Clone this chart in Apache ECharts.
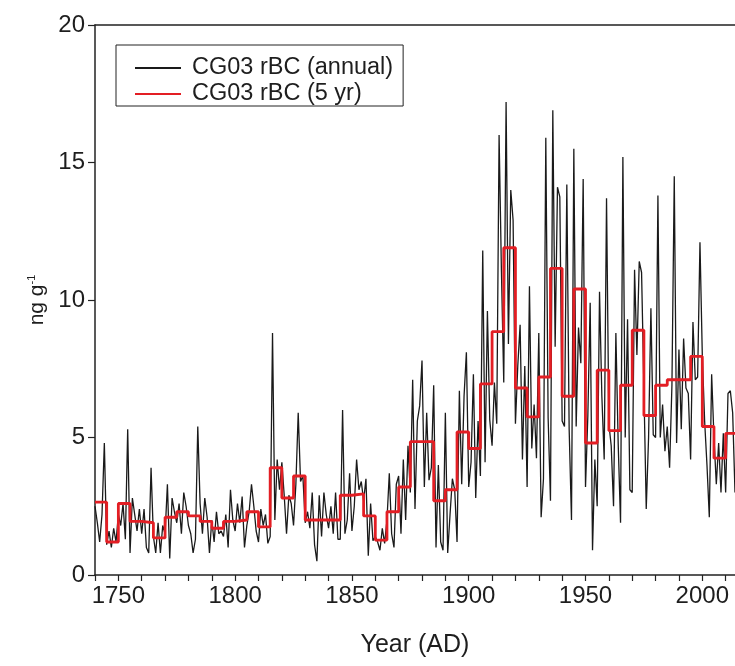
<!DOCTYPE html>
<html>
<head>
<meta charset="utf-8">
<script src="https://cdn.jsdelivr.net/npm/echarts@6/dist/echarts.min.js"></script>
<style>
  html, body { margin: 0; padding: 0; background: #fff; }
  #chart { width: 735px; height: 666px; }
</style>
</head>
<body>
<div id="chart"></div>
<script>
// CG03 refractory black carbon (rBC), ng g-1
const annualStartYear = 1740;
// one value per year, 1740 .. 2014
const annualValues = [
  2.5, 1.9, 1.2, 2.2, 4.8, 1.1, 1.6, 1.0, 1.7, 1.2,       // 1740s
  2.2, 1.8, 2.6, 1.3, 5.3, 0.8, 2.8, 2.2, 1.6, 2.4,       // 1750s
  1.5, 2.4, 1.0, 0.8, 3.9, 1.4, 0.8, 1.9, 0.8, 1.8,       // 1760s
  1.5, 3.3, 0.6, 2.8, 2.3, 1.9, 2.6, 1.5, 3.0, 2.5,       // 1770s
  1.8, 1.5, 0.8, 1.3, 5.4, 2.6, 1.5, 2.8, 2.1, 0.8,       // 1780s
  2.0, 1.2, 2.3, 1.5, 1.6, 1.4, 2.2, 1.0, 3.1, 2.0,       // 1790s
  1.6, 2.6, 1.9, 2.85, 1.0, 1.8, 2.3, 3.3, 2.5, 1.6,      // 1800s
  1.2, 2.4, 1.8, 2.2, 1.15, 1.4, 8.8, 2.0, 4.2, 3.1,      // 1810s
  4.1, 2.9, 1.5, 2.9, 2.6, 1.8, 3.3, 5.9, 3.4, 3.6,       // 1820s
  1.9, 2.3, 1.7, 3.0, 1.1, 0.5, 2.9, 1.4, 3.0, 2.2,       // 1830s
  1.7, 2.5, 1.5, 3.0, 1.3, 1.3, 6.0, 1.5, 2.0, 3.7,       // 1840s
  1.6, 2.5, 4.2, 3.1, 3.4, 2.7, 3.5, 0.7, 2.6, 1.25,      // 1850s
  1.4, 1.2, 0.9, 1.7, 1.15, 2.0, 3.7, 1.5, 1.0, 3.3,      // 1860s
  3.6, 1.5, 4.2, 2.0, 4.7, 3.0, 7.1, 2.4, 5.6, 6.15,      // 1870s
  7.8, 3.2, 5.9, 3.45, 3.9, 6.9, 1.0, 4.0, 1.2, 0.9,      // 1880s
  5.9, 0.8, 2.2, 3.5, 3.1, 1.2, 6.7, 3.3, 6.5, 8.1,       // 1890s
  3.2, 4.1, 7.3, 2.8, 5.6, 3.6, 11.8, 4.1, 9.6, 5.65,     // 1900s
  4.7, 7.0, 5.5, 16.0, 11.05, 7.0, 17.2, 8.4, 14.0, 12.9, // 1910s
  5.5, 7.6, 9.1, 4.2, 7.6, 3.2, 10.5, 4.6, 6.2, 4.25,     // 1920s
  8.8, 2.1, 3.5, 15.9, 5.7, 2.7, 16.9, 8.3, 14.1, 13.75,  // 1930s
  5.6, 5.4, 14.2, 5.3, 2.0, 15.5, 5.4, 9.0, 7.7, 14.4,    // 1940s
  3.2, 5.8, 9.9, 0.9, 4.2, 2.5, 10.3, 6.5, 4.2, 13.7,     // 1950s
  5.5, 4.7, 2.5, 8.8, 4.75, 1.9, 15.2, 5.0, 9.3, 3.1,     // 1960s
  3.0, 11.1, 8.0, 11.4, 11.0, 6.8, 2.4, 5.0, 9.7, 5.1,    // 1970s
  5.0, 13.8, 5.0, 6.2, 4.5, 5.4, 3.9, 6.9, 14.5, 4.8,     // 1980s
  8.2, 5.3, 8.6, 6.8, 6.6, 4.2, 9.2, 7.1, 7.2, 12.1,      // 1990s
  8.0, 5.6, 4.0, 2.1, 7.3, 5.0, 3.3, 4.8, 3.0, 5.15,      // 2000s
  3.0, 6.6, 6.7, 5.9, 3.0                                 // 2010s
];

// 5-year means, each held from the start year of its bin
const binStartYears = [
  1740, 1745, 1750, 1755, 1760, 1765, 1770, 1775, 1780, 1785,
  1790, 1795, 1800, 1805, 1810, 1815, 1820, 1825, 1830, 1835,
  1840, 1845, 1850, 1855, 1860, 1865, 1870, 1875, 1880, 1885,
  1890, 1895, 1900, 1905, 1910, 1915, 1920, 1925, 1930, 1935,
  1940, 1945, 1950, 1955, 1960, 1965, 1970, 1975, 1980, 1985,
  1990, 1995, 2000, 2005, 2010, 2015
];
const binValues = [
  2.65, 1.2, 2.6, 1.95, 1.9, 1.35, 2.1, 2.3, 2.15, 1.95,
  1.7, 1.95, 2.0, 2.3, 1.75, 3.9, 2.8, 3.6, 2.0, 2.0,
  2.0, 2.9, 2.95, 2.15, 1.27, 2.3, 3.2, 4.85, 4.85, 2.7,
  3.1, 5.2, 4.6, 6.95, 8.85, 11.9, 6.8, 5.75, 7.2, 11.15,
  6.5, 10.4, 4.8, 7.45, 5.25, 6.9, 8.9, 5.8, 6.9, 7.1,
  7.1, 7.95, 5.4, 4.25, 5.15, 5.15
];

const xTickLabels = [1750, 1800, 1850, 1900, 1950, 2000];
const yTickLabels = [0, 5, 10, 15, 20];

const annualData = annualValues.map((v, i) => [annualStartYear + i, v]);
const binData = binStartYears.map((y, i) => [y, binValues[i]]);

const FONT = 'Liberation Sans, Arial, sans-serif';
const AXIS_COLOR = '#222';
const TEXT_COLOR = '#1e1e1e';

const chart = echarts.init(document.getElementById('chart'), null, { renderer: 'canvas' });

chart.setOption({
  backgroundColor: '#ffffff',
  animation: false,
  grid: { left: 95, right: 0, top: 25, bottom: 91, containLabel: false },
  legend: {
    orient: 'vertical',
    left: 116,
    top: 45,
    padding: [11, 10, 0, 18],
    itemGap: 2,
    itemWidth: 46,
    itemHeight: 2,
    borderColor: '#222',
    borderWidth: 1,
    textStyle: { fontFamily: FONT, fontSize: 23.5, lineHeight: 20, color: TEXT_COLOR, padding: [0, 0, 0, 6] },
    data: ['CG03 rBC (annual)', 'CG03 rBC (5 yr)']
  },
  xAxis: [
    {
      type: 'value',
      min: 1740,
      max: 2014,
      interval: 10,
      name: 'Year (AD)',
      nameLocation: 'middle',
      nameGap: 58,
      nameTextStyle: { fontFamily: FONT, fontSize: 25, color: TEXT_COLOR },
      axisLine: { show: true, onZero: false, lineStyle: { color: AXIS_COLOR, width: 1.5 } },
      axisTick: { show: true, inside: false, length: 6, lineStyle: { color: AXIS_COLOR, width: 1.2 } },
      axisLabel: {
        margin: 9,
        fontFamily: FONT,
        fontSize: 24,
        color: TEXT_COLOR,
        showMaxLabel: false,
        formatter: v => (xTickLabels.indexOf(v) >= 0 ? String(v) : '')
      },
      splitLine: { show: false }
    },
    {
      type: 'value',
      position: 'top',
      min: 1740,
      max: 2014,
      axisLine: { show: true, onZero: false, lineStyle: { color: AXIS_COLOR, width: 1.5 } },
      axisTick: { show: false },
      axisLabel: { show: false },
      splitLine: { show: false }
    }
  ],
  yAxis: {
    type: 'value',
    min: 0,
    max: 20,
    interval: 5,
    name: '{a|ng g}{b|-1}',
    nameLocation: 'middle',
    nameRotate: 90,
    nameGap: 46,
    nameTextStyle: {
      fontFamily: FONT,
      color: TEXT_COLOR,
      rich: {
        a: { fontFamily: FONT, fontSize: 21, color: TEXT_COLOR },
        b: { fontFamily: FONT, fontSize: 11, color: TEXT_COLOR, verticalAlign: 'top', padding: [0, 0, 8, 0] }
      }
    },
    axisLine: { show: true, onZero: false, lineStyle: { color: AXIS_COLOR, width: 1.5 } },
    axisTick: { show: true, inside: false, length: 7, lineStyle: { color: AXIS_COLOR, width: 1.2 } },
    axisLabel: {
      margin: 10,
      fontFamily: FONT,
      fontSize: 24,
      color: TEXT_COLOR,
      formatter: v => (yTickLabels.indexOf(v) >= 0 ? String(v) : '')
    },
    splitLine: { show: false }
  },
  series: [
    {
      name: 'CG03 rBC (annual)',
      type: 'line',
      data: annualData,
      symbol: 'none',
      clip: true,
      color: '#1a1a1a',
      lineStyle: { color: '#1a1a1a', width: 1.3 },
      z: 2
    },
    {
      name: 'CG03 rBC (5 yr)',
      type: 'line',
      step: 'end',
      data: binData,
      symbol: 'none',
      clip: true,
      color: '#e31e24',
      lineStyle: { color: '#e31e24', width: 2.8 },
      z: 3
    }
  ]
});
</script>
</body>
</html>
